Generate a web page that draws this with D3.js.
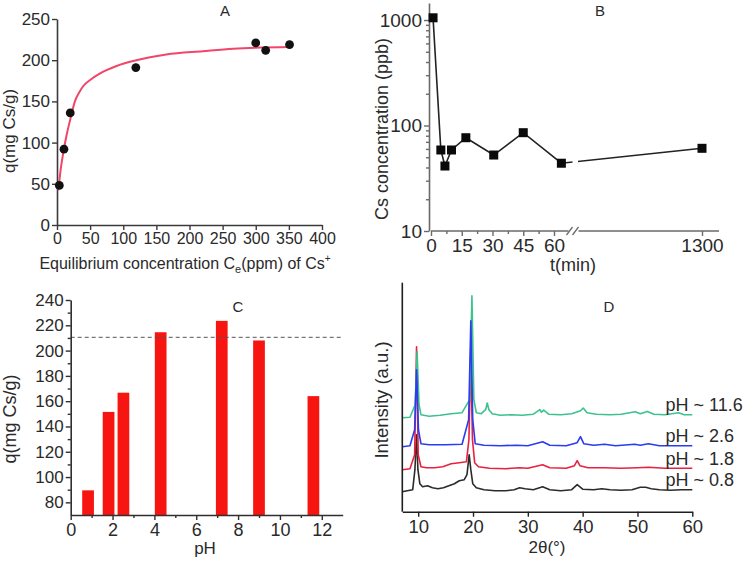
<!DOCTYPE html>
<html><head><meta charset="utf-8">
<script src="https://cdn.jsdelivr.net/npm/d3@7"></script>
<style>
body{margin:0;background:#fff}
svg{display:block}
text{font-family:Arial,"Liberation Sans",sans-serif;fill:#2a2a2a}
</style>
</head><body>
<svg id="chart" width="748" height="565"></svg>
<script>
// ---------- Panel A : isotherm ----------
const isoC = [3.5, 10.5, 20, 119, 300, 315, 351];
const isoQ = [48, 92, 136, 191, 221, 212, 219];
const fitC = [2, 5, 10, 15, 20, 27, 35, 40, 50, 65, 90, 115, 165, 220, 266, 352];
const fitQ = [42, 64, 90, 111, 128, 150, 163, 169, 176, 184, 193, 199, 207, 211, 214, 216];
const aXTicks = [0, 50, 100, 150, 200, 250, 300, 350, 400];
const aYTicks = [0, 50, 100, 150, 200, 250];

// ---------- Panel B : kinetics ----------
const timeMin = [1, 4.8, 6.8, 10, 17, 30.6, 45, 63.6, 1300];
const csPpb = [1050, 58.6, 41.3, 58.6, 76.6, 52.5, 85.5, 43.9, 60.8];
const bXTicks = [0, 15, 30, 45, 60, 1300];
const bXMinor = [7.5, 22.5, 37.5, 52.5];
const bYTicks = [10, 100, 1000];
const bYMinor = [20, 30, 40, 50, 60, 70, 80, 90, 200, 300, 400, 500, 600, 700, 800, 900];

// ---------- Panel C : pH effect ----------
const phValues = [0.83, 1.81, 2.52, 4.3, 7.22, 9.0, 11.6];
const phUptake = [89.5, 151.5, 166.7, 214.5, 223.5, 208, 164];
const phRefLine = 210.5;
const cXTicks = [0, 2, 4, 6, 8, 10, 12];
const cXMinor = [1, 3, 5, 7, 9, 11];
const cYTicks = [80, 100, 120, 140, 160, 180, 200, 220, 240];
const cYMinor = [90, 110, 130, 150, 170, 190, 210, 230];

// ---------- Panel D : XRD ----------
const dXTicks = [10, 20, 30, 40, 50, 60];
const xrdLabels = ["pH ~ 0.8", "pH ~ 1.8", "pH ~ 2.6", "pH ~ 11.6"];
const xrdColors = ["#2b2b2b", "#e8213f", "#2a3cf0", "#3cc28e"];
const xrd08 = [[7.1,20],[8,21],[9.0,22],[9.4,42],[9.7,77],[9.95,42],[10.3,28],[10.8,25],[11.7,26],[12.6,24],[13.6,23],[14.6,24],[15.6,26],[16.6,28],[17.5,31],[18.4,32],[18.9,37],[19.3,57],[19.6,42],[19.95,28],[20.6,24],[22,22],[24,21],[26,21],[27.5,22],[28.5,24],[29.5,23],[31,22],[32.7,25],[34,22],[36,21],[38,22],[39,27],[40,22.5],[42,22],[43.5,23],[45,22],[47,21.5],[49,22],[50.5,24.5],[51.5,24.5],[52.5,23],[54,22],[56,21.5],[58,22],[60,22]];
const xrd18 = [[7.1,42],[8.5,43],[9.35,57],[9.7,165],[10.0,57],[10.5,45],[11.5,44],[13,44],[14.5,45],[16,48],[17.5,49],[18.8,50],[19.25,72],[19.6,155],[19.9,72],[20.3,49],[21,45],[23,43.5],[26,43],[28.5,44],[30,43.5],[32.7,47],[34,44],[37,43.5],[38.5,46],[39.0,51],[39.5,46],[41,44],[44,44],[47,43.5],[50,44],[52,44.5],[55,43.5],[60,43.5]];
const xrd26 = [[7.1,65],[8.5,66],[9.35,82],[9.7,142],[10.05,82],[10.5,68],[12,67],[15,67],[18,67.5],[19.2,92],[19.6,191],[19.95,92],[20.4,68],[22,66.5],[25,66],[28,66.5],[30,66],[32.7,70],[34,66.5],[37,66],[39.0,69],[39.6,75],[40.2,68],[42,66.5],[44,67.5],[46,66],[49.5,67.5],[50.5,66.5],[52,68],[54,66],[57,66],[60,66]];
const xrd116 = [[7.1,94],[8.5,94.5],[9.45,107],[9.8,160],[10.15,107],[10.5,97],[12,95.5],[14,96.5],[16,98],[18,99],[19.4,112],[19.8,216],[20.15,112],[20.6,99],[21.5,98],[22.3,102],[22.6,108.7],[22.9,102],[23.5,98],[25,96.5],[27,97],[29,96.5],[31,97.5],[32.2,102],[32.5,99.5],[32.9,101.5],[33.8,97.5],[36,97],[38,98],[39.6,101],[40.1,103.7],[40.8,99],[42.5,97.5],[45,97],[47,97.5],[49.6,100],[50.5,98],[51.8,100.3],[53,97.5],[55,97],[57.5,99],[58.5,97],[60,97]];
const xrdSeries = [xrd08, xrd18, xrd26, xrd116];

const svg = d3.select("#chart");

function styleAxis(g, color, fs) {
  g.selectAll("path").attr("stroke", color).attr("stroke-width", 1.6);
  g.selectAll("line").attr("stroke", color).attr("stroke-width", 1.4);
  g.selectAll("text").attr("font-size", fs).attr("fill", "#2a2a2a")
    .attr("font-family", 'Arial,"Liberation Sans",sans-serif');
}

// ================= Panel A =================
{
  const x = d3.scaleLinear().domain([0, 400]).range([57, 322]);
  const y = d3.scaleLinear().domain([0, 250]).range([225, 19]);
  const gx = svg.append("g").attr("transform", "translate(0,225)")
    .call(d3.axisBottom(x).tickValues(aXTicks).tickSize(5).tickSizeOuter(0).tickPadding(3));
  styleAxis(gx, "#3a3a3a", 16);
  const gy = svg.append("g").attr("transform", "translate(57,0)")
    .call(d3.axisLeft(y).tickValues(aYTicks).tickSize(5).tickSizeOuter(0).tickPadding(2));
  styleAxis(gy, "#3a3a3a", 17);

  const fit = fitC.map((c, i) => [c, fitQ[i]]);
  svg.append("path").datum(fit)
    .attr("fill", "none").attr("stroke", "#f0466a").attr("stroke-width", 2)
    .attr("d", d3.line().x(d => x(d[0])).y(d => y(d[1])).curve(d3.curveMonotoneX));
  svg.append("g").selectAll("circle").data(isoC.map((c, i) => [c, isoQ[i]])).join("circle")
    .attr("cx", d => x(d[0])).attr("cy", d => y(d[1])).attr("r", 4.4).attr("fill", "#111");

  svg.append("text").attr("x", 225).attr("y", 15.5).attr("text-anchor", "middle")
    .attr("font-size", 15).text("A");
  const t = svg.append("text").attr("x", 185).attr("y", 269).attr("text-anchor", "middle").attr("font-size", 16);
  t.append("tspan").text("Equilibrium concentration C");
  t.append("tspan").attr("dy", 4).attr("font-size", 11).text("e");
  t.append("tspan").attr("dy", -4).text("(ppm) of Cs");
  t.append("tspan").attr("dy", -7).attr("font-size", 10).text("+");
  svg.append("text").attr("transform", "translate(15,131) rotate(-90)")
    .attr("text-anchor", "middle").attr("font-size", 17).text("q(mg Cs/g)");
}

// ================= Panel B =================
{
  const x = d3.scaleLinear().domain([0, 70, 1013, 1340]).range([431, 574.5, 580, 719]);
  const y = d3.scaleLog().domain([10, 1450]).range([231, 3]);
  const axc = "#6a6a6a";
  const gx = svg.append("g").attr("transform", "translate(0,231)")
    .call(d3.axisBottom(x).tickValues(bXTicks).tickFormat(d3.format("d")).tickSize(5).tickPadding(3));
  gx.select("path.domain").remove();
  styleAxis(gx, axc, 19);
  const gxm = svg.append("g").attr("transform", "translate(0,231)")
    .call(d3.axisBottom(x).tickValues(bXMinor).tickFormat("").tickSize(3));
  gxm.select("path.domain").remove();
  styleAxis(gxm, axc, 19);
  const bk = x(70);
  svg.append("line").attr("x1", x(0)).attr("x2", bk - 6).attr("y1", 231).attr("y2", 231)
    .attr("stroke", axc).attr("stroke-width", 1.6);
  svg.append("line").attr("x1", bk + 4).attr("x2", x(1340)).attr("y1", 231).attr("y2", 231)
    .attr("stroke", axc).attr("stroke-width", 1.6);
  [bk - 6, bk].forEach(b => {
    svg.append("line").attr("x1", b - 2).attr("x2", b + 4).attr("y1", 235).attr("y2", 227)
      .attr("stroke", axc).attr("stroke-width", 1.3);
  });
  const gy = svg.append("g").attr("transform", "translate(429,0)")
    .call(d3.axisLeft(y).tickValues(bYTicks).tickFormat(d3.format("d")).tickSize(5).tickSizeOuter(0).tickPadding(2));
  styleAxis(gy, axc, 19);
  const gym = svg.append("g").attr("transform", "translate(429,0)")
    .call(d3.axisLeft(y).tickValues(bYMinor).tickFormat("").tickSize(3).tickSizeOuter(0));
  gym.select("path.domain").remove();
  styleAxis(gym, axc, 19);

  const clip = svg.append("clipPath").attr("id", "bclip");
  clip.append("rect").attr("x", 0).attr("y", 0).attr("width", bk - 2).attr("height", 260);
  clip.append("rect").attr("x", x(1013) - 2).attr("y", 0).attr("width", 200).attr("height", 260);
  const pts = timeMin.map((t, i) => [t, csPpb[i]]);
  svg.append("path").datum(pts).attr("clip-path", "url(#bclip)")
    .attr("fill", "none").attr("stroke", "#222").attr("stroke-width", 1.6)
    .attr("d", d3.line().x(d => x(d[0])).y(d => y(d[1])));
  const s = 9;
  svg.append("g").selectAll("rect").data(pts).join("rect")
    .attr("x", d => x(d[0]) - s / 2).attr("y", d => y(d[1]) - s / 2)
    .attr("width", s).attr("height", s).attr("fill", "#0a0a0a");

  svg.append("text").attr("x", 600).attr("y", 15.5).attr("text-anchor", "middle")
    .attr("font-size", 15).text("B");
  svg.append("text").attr("x", 573).attr("y", 271).attr("text-anchor", "middle")
    .attr("font-size", 18).text("t(min)");
  svg.append("text").attr("transform", "translate(388,129) rotate(-90)")
    .attr("text-anchor", "middle").attr("font-size", 18).text("Cs concentration (ppb)");
}

// ================= Panel C =================
{
  const x = d3.scaleLinear().domain([0, 13]).range([70.7, 342.7]);
  const y = d3.scaleLinear().domain([70, 240]).range([515, 300]);
  const axc = "#2f2f2f";
  const bw = x(0.56) - x(0);
  svg.append("g").selectAll("rect").data(phValues.map((p, i) => [p, phUptake[i]])).join("rect")
    .attr("x", d => x(d[0]) - bw / 2).attr("y", d => y(d[1]))
    .attr("width", bw).attr("height", d => y(70) - y(d[1]))
    .attr("fill", "#f71512");
  svg.append("line").attr("x1", x(0)).attr("x2", x(13))
    .attr("y1", y(phRefLine)).attr("y2", y(phRefLine))
    .attr("stroke", "#555").attr("stroke-width", 1).attr("stroke-dasharray", "4,3");

  const gx = svg.append("g").attr("transform", "translate(0,515)")
    .call(d3.axisBottom(x).tickValues(cXTicks).tickSize(5).tickSizeOuter(0).tickPadding(3));
  styleAxis(gx, axc, 18);
  const gxm = svg.append("g").attr("transform", "translate(0,515)")
    .call(d3.axisBottom(x).tickValues(cXMinor).tickFormat("").tickSize(3));
  gxm.select("path.domain").remove();
  styleAxis(gxm, axc, 18);
  const gy = svg.append("g").attr("transform", "translate(70.7,0)")
    .call(d3.axisLeft(y).tickValues(cYTicks).tickSize(5).tickSizeOuter(0).tickPadding(2));
  styleAxis(gy, axc, 17);
  const gym = svg.append("g").attr("transform", "translate(70.7,0)")
    .call(d3.axisLeft(y).tickValues(cYMinor).tickFormat("").tickSize(3));
  gym.select("path.domain").remove();
  styleAxis(gym, axc, 17);

  svg.append("text").attr("x", 238).attr("y", 311.5).attr("text-anchor", "middle")
    .attr("font-size", 15).text("C");
  svg.append("text").attr("x", 205).attr("y", 554).attr("text-anchor", "middle")
    .attr("font-size", 17).text("pH");
  svg.append("text").attr("transform", "translate(16,419) rotate(-90)")
    .attr("text-anchor", "middle").attr("font-size", 18).text("q(mg Cs/g)");
}

// ================= Panel D =================
{
  const x = d3.scaleLinear().domain([7.1, 60]).range([402.3, 692.3]);
  const y = d3.scaleLinear().domain([0, 229]).range([511.7, 282.7]);
  const axc = "#1e1e1e";
  const line = d3.line().x(d => x(d[0])).y(d => y(d[1]));
  [0, 1, 3, 2].forEach(i => {
    svg.append("path").datum(xrdSeries[i]).attr("fill", "none")
      .attr("stroke", xrdColors[i]).attr("stroke-width", 1.6).attr("stroke-linejoin", "round")
      .attr("d", line);
  });
  const gx = svg.append("g").attr("transform", "translate(0,511.7)")
    .call(d3.axisBottom(x).tickValues(dXTicks).tickSize(5).tickSizeOuter(0).tickPadding(3));
  styleAxis(gx, axc, 18.5);
  svg.append("line").attr("x1", 402.3).attr("x2", 402.3).attr("y1", y(229)).attr("y2", y(0))
    .attr("stroke", axc).attr("stroke-width", 1.6);

  xrdSeries.forEach((s, i) => {
    const last = s[s.length - 1];
    svg.append("text").attr("x", 665.5).attr("y", y(last[1]) - 3.5)
      .attr("font-size", 18).text(xrdLabels[i]);
  });
  svg.append("text").attr("x", 609).attr("y", 311.5).attr("text-anchor", "middle")
    .attr("font-size", 15).text("D");
  svg.append("text").attr("x", 547).attr("y", 553).attr("text-anchor", "middle")
    .attr("font-size", 17).text("2θ(°)");
  svg.append("text").attr("transform", "translate(388,400) rotate(-90)")
    .attr("text-anchor", "middle").attr("font-size", 18.5).text("Intensity (a.u.)");
}
</script>
</body></html>
